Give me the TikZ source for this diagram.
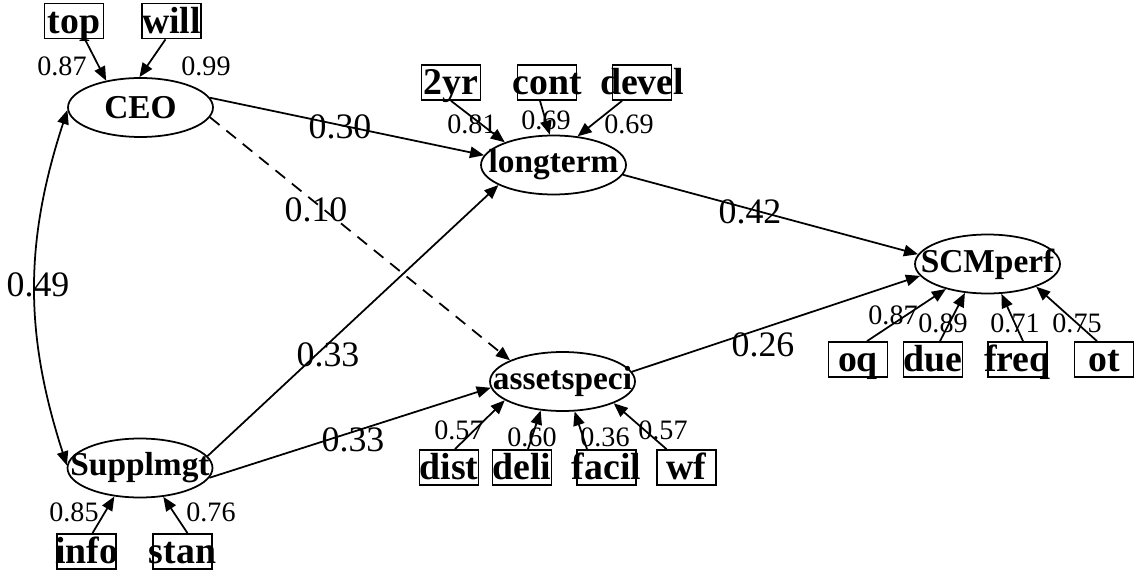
\documentclass[tikz,border=0pt]{standalone}
\usepackage{fontspec}
\setmainfont{Liberation Serif}
\usetikzlibrary{arrows.meta,shapes.geometric,calc}
\begin{document}
\begin{tikzpicture}[x=0.02cm,y=-0.02cm,
  lat/.style={ellipse,draw,line width=1pt,minimum width=2.9cm,minimum height=1.18cm,inner sep=0pt,font=\fontsize{19}{19}\selectfont\bfseries},
  obs/.style={rectangle,draw,line width=1pt,minimum width=1.18cm,minimum height=0.7cm,inner sep=0pt,text height=17pt,text depth=2.8pt,font=\fontsize{21.5}{21.5}\selectfont\bfseries},
  sm/.style={font=\fontsize{16}{16}\selectfont,inner sep=0pt},
  big/.style={font=\fontsize{20.4}{20.4}\selectfont,inner sep=0pt},
  arr/.style={line width=1pt,-{Triangle[length=8pt,width=6.5pt]}},
  darr/.style={line width=1pt,{Triangle[length=8pt,width=6.5pt]}-{Triangle[length=8pt,width=6.5pt]}},
]
\useasboundingbox (0,0) rectangle (1135,574);
% latent variables
\node[lat] (CEO) at (140.5,107.5) {\makebox[0pt]{CEO}};
\node[lat] (sup) at (140,468) {\makebox[0pt]{Supplmgt}};
\node[lat] (lt) at (553.5,165) {\makebox[0pt]{longterm}};
\node[lat] (as) at (562.5,381.5) {\makebox[0pt]{assetspeci}};
\node[lat] (scm) at (987.5,264) {\makebox[0pt]{SCMperf}};
% observed variables
\node[obs] (top) at (74,21) {\makebox[0pt]{top}};
\node[obs] (will) at (171.5,21) {\makebox[0pt]{will}};
\node[obs] (yr) at (451,82.5) {\makebox[0pt]{2yr}};
\node[obs] (cont) at (547,82.5) {\makebox[0pt]{cont}};
\node[obs] (devel) at (642,82.5) {\makebox[0pt]{devel}};
\node[obs] (info) at (86.5,551.5) {\makebox[0pt]{info}};
\node[obs] (stan) at (182.5,551.5) {\makebox[0pt]{stan}};
\node[obs] (dist) at (449,467.5) {\makebox[0pt]{dist}};
\node[obs] (deli) at (522,467.5) {\makebox[0pt]{deli}};
\node[obs] (facil) at (606.5,467.5) {\makebox[0pt]{facil}};
\node[obs] (wf) at (686.5,467.5) {\makebox[0pt]{wf}};
\node[obs] (oq) at (858,359.5) {\makebox[0pt]{oq}};
\node[obs] (due) at (933,359.5) {\makebox[0pt]{due}};
\node[obs] (freq) at (1017.5,359.5) {\makebox[0pt]{freq}};
\node[obs] (ot) at (1104,359.5) {\makebox[0pt]{ot}};
% measurement arrows
\draw[arr] ($(top.south)+(11,0)$) -- (CEO.142);
\draw[arr] ($(will.south)+(-6,0)$) -- (CEO.92);
\draw[arr] (yr.south) -- (lt.155);
\draw[arr] ($(cont.south)+(-7,0)$) -- (lt.97);
\draw[arr] ($(devel.south)+(-20,0)$) -- (lt.50);
\draw[arr] ($(info.north)+(6,0)$) -- (sup.228);
\draw[arr] ($(stan.north)+(5,0)$) -- (sup.309);
\draw[arr] ($(dist.north)+(6,0)$) -- (as.198);
\draw[arr] ($(deli.north)+(6,0)$) -- (as.233);
\draw[arr] ($(facil.north)+(-19.5,0)$) -- (as.292);
\draw[arr] ($(wf.north)+(-20,0)$) -- (as.337);
\draw[arr] ($(oq.north)+(9,0)$) -- (scm.211);
\draw[arr] ($(due.north)+(7,0)$) -- (scm.232);
\draw[arr] ($(freq.north)+(5.5,0)$) -- (scm.295);
\draw[arr] ($(ot.north)+(-7,0)$) -- (scm.335);
% structural arrows
\draw[darr] (CEO.182) to[bend right=18] (sup.178);
\draw[arr] (CEO.8) -- (lt.172);
\draw[arr,dashed,dash pattern=on 7pt off 5pt] (CEO.-8) -- (as.158);
\draw[arr] (sup.10) -- (lt.200);
\draw[arr] (sup.-8) -- (as.185);
\draw[arr] (lt.-8) -- (scm.172);
\draw[arr] (as.8) -- (scm.190);
% loadings
\node[sm] (l1) at (62,66) {0.87};
\node[sm] (l2) at (206,66) {0.99};
\node[sm] (l3) at (472,124) {0.81};
\node[sm] (l4) at (546,120) {0.69};
\node[sm] (l5) at (629,124) {0.69};
\node[sm] (l6) at (74,512) {0.85};
\node[sm] (l7) at (211,512) {0.76};
\node[sm] (l8) at (459,430) {0.57};
\node[sm] (l9) at (532,437) {0.60};
\node[sm] (l10) at (605,437) {0.36};
\node[sm] (l11) at (663,430) {0.57};
\node[sm] (l12) at (893,315) {0.87};
\node[sm] (l13) at (943,323) {0.89};
\node[sm] (l14) at (1015,323) {0.71};
\node[sm] (l15) at (1077,323) {0.75};
% path coefficients
\node[big] (p1) at (340,127) {0.30};
\node[big] (p2) at (316,210) {0.10};
\node[big] (p3) at (38,285) {0.49};
\node[big] (p4) at (328,355) {0.33};
\node[big] (p5) at (353,440) {0.33};
\node[big] (p6) at (750,212) {0.42};
\node[big] (p7) at (763,345) {0.26};
\end{tikzpicture}
\end{document}
